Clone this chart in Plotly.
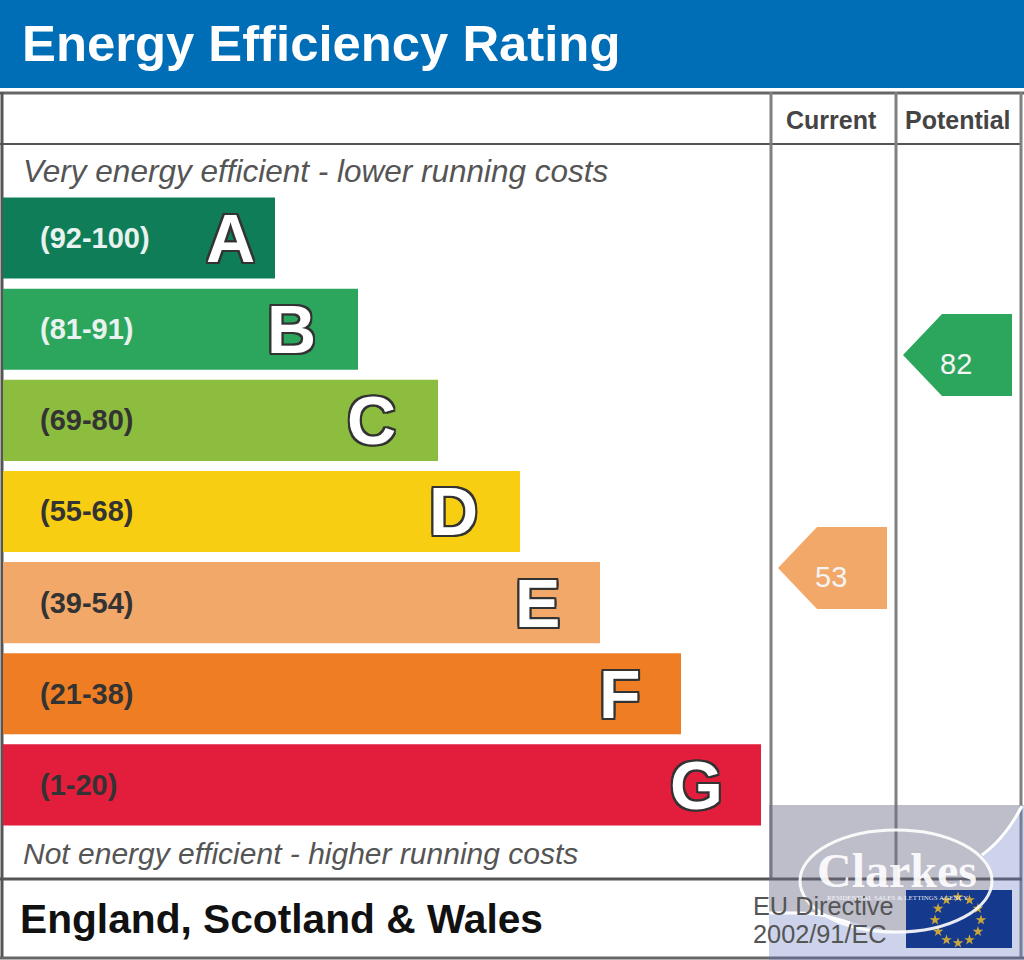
import numpy as np
import plotly.graph_objects as go

# Data
bands = ["A", "B", "C", "D", "E", "F", "G"]
band_ranges = ["(92-100)", "(81-91)", "(69-80)", "(55-68)", "(39-54)", "(21-38)", "(1-20)"]
bar_lengths = [272, 355, 435, 517, 597, 678, 758]
letter_x = [230, 291, 371, 453, 537, 620, 696]
band_colors = ["#0f7e58", "#2ca65c", "#8cbd3f", "#f8ce12", "#f2a869", "#ee7d23", "#e31d3c"]
label_colors = ["#e8f2ee", "#e8f2ee", "#333333", "#333333", "#333333", "#333333", "#333333"]
current_score = 53
potential_score = 82

W, H = 1024, 960
OUTLINE = ",".join(f"{a}px {b}px 0 #333333" for a, b in
                   [(-2, 0), (2, 0), (0, -2), (0, 2), (-2, -2), (2, -2), (-2, 2), (2, 2)])

fig = go.Figure()
shapes = []
annotations = []

# bands
fig.add_trace(go.Bar(
    y=bands, x=bar_lengths, base=3, orientation="h",
    marker=dict(color=band_colors, line_width=0), hoverinfo="skip",
    xaxis="x", yaxis="y",
))


# current / potential arrows, placed on a score axis
def add_arrow(score, right, color):
    half = 5.58
    xs = [right, right - 70, right - 109, right - 70, right, right]
    ys = [score + half, score + half, score, score - half, score - half, score + half]
    fig.add_trace(go.Scatter(
        x=xs, y=ys, mode="lines", fill="toself", fillcolor=color,
        line=dict(width=0, color=color), hoverinfo="skip", xaxis="x", yaxis="y2",
    ))
    annotations.append(dict(
        x=right - 56, y=score, xref="x", yref="y2", text=str(score), showarrow=False,
        yshift=-9, font=dict(family="Liberation Sans", size=29, color="#f4f4f4"),
    ))


add_arrow(current_score, 887, band_colors[4])
add_arrow(potential_score, 1012, band_colors[1])

# EU flag stars
angles = np.deg2rad(np.arange(0, 360, 30))
fig.add_trace(go.Scatter(
    x=958 + 23 * np.cos(angles), y=920 + 23 * np.sin(angles), mode="markers",
    marker=dict(symbol="star", size=8, color="#c9a63a", line_width=0),
    hoverinfo="skip", xaxis="x", yaxis="y3",
))


def rect(x0, y0, x1, y1, color, layer="below"):
    shapes.append(dict(type="rect", xref="x", yref="y3", x0=x0, y0=y0, x1=x1, y1=y1,
                       fillcolor=color, line_width=0, layer=layer))


def line(x0, y0, x1, y1, color, width):
    shapes.append(dict(type="line", xref="x", yref="y3", x0=x0, y0=y0, x1=x1, y1=y1,
                       line=dict(color=color, width=width), layer="below"))


# header and table frame
rect(0, 0, W, 88, "#006db7")
line(0, 93, 1024, 93, "#666666", 3)
line(2, 92, 2, 958, "#555555", 3)
line(0, 144, 1022, 144, "#555555", 2)
line(771, 92, 771, 878, "#808080", 3)
line(896, 92, 896, 878, "#808080", 3)
line(1021, 92, 1021, 958, "#808080", 3)
line(0, 879, 1022, 879, "#555555", 3)
line(0, 958, 1024, 958, "#666666", 3)
rect(906, 890, 1012, 948, "#15398c")

# watermark over the lower right corner
swoosh = "C1012 825 1000 842 982 855"
grey_path = ("M769 805 H1020 " + swoosh +
             " C990 865 993 872 992 880 L990 890 H906 V932 C870 932 835 913 800 913 H769 Z")
blue_path = ("M1020 805 H1024 V960 H769 V913 H800 C835 913 870 932 906 932 V948 H1012 V890 H990 "
             "L992 880 C993 872 990 865 982 855 C1000 842 1012 825 1020 805 Z")
shapes.append(dict(type="path", xref="x", yref="y3", path=grey_path, layer="above",
                   fillcolor="rgba(110,110,140,0.45)", line_width=0))
shapes.append(dict(type="path", xref="x", yref="y3", path=blue_path, layer="above",
                   fillcolor="rgba(100,120,190,0.33)", line_width=0))
shapes.append(dict(type="circle", xref="x", yref="y3", x0=800, x1=992, y0=830, y1=932, layer="above",
                   line=dict(color="rgba(255,255,255,0.9)", width=3)))
shapes.append(dict(type="path", xref="x", yref="y3", path="M1022 806 " + swoosh, layer="above",
                   line=dict(color="white", width=3)))
shapes.append(dict(type="path", xref="x", yref="y3", path="M769 913 H800 C820 913 835 918 850 923", layer="above",
                   line=dict(color="white", width=3)))


def label(x, y, text, size, color, family="Liberation Sans", anchor="left", bold=False, italic=False):
    annotations.append(dict(
        x=x, y=y, xref="x", yref="y3", text=text, showarrow=False, xanchor=anchor, yanchor="middle",
        font=dict(family=family, size=size, color=color, weight="bold" if bold else "normal",
                  style="italic" if italic else "normal"),
    ))


label(20, 43, "Energy Efficiency Rating", 50.8, "white", bold=True)
label(831, 120, "Current", 25, "#444444", anchor="center", bold=True)
label(958, 120, "Potential", 25, "#444444", anchor="center", bold=True)
label(21, 171, "Very energy efficient - lower running costs", 31.5, "#555555", italic=True)
label(21, 853, "Not energy efficient - higher running costs", 30, "#555555", italic=True)
label(18, 919, "England, Scotland &amp; Wales", 40.7, "#111111", bold=True)
label(751, 906, "EU Directive", 25.3, "#555555")
label(751, 934, "2002/91/EC", 25.3, "#555555")
label(897, 870, "Clarkes", 48, "rgba(255,255,255,0.92)", family="Liberation Serif", anchor="center", bold=True)
label(897, 898, "RESIDENTIAL SALES &amp; LETTINGS AGENCY", 7, "rgba(255,255,255,0.9)",
      family="Liberation Serif", anchor="center")

for band, rng, lx, lc in zip(bands, band_ranges, letter_x, label_colors):
    annotations.append(dict(x=38, y=band, xref="x", yref="y", text=rng, showarrow=False, xanchor="left",
                            font=dict(family="Liberation Sans", size=29, color=lc, weight="bold")))
    annotations.append(dict(x=lx, y=band, xref="x", yref="y", text=band, showarrow=False, xanchor="center",
                            font=dict(family="Liberation Sans", size=68, color="white", weight="bold",
                                      shadow=OUTLINE)))

hidden = dict(visible=False, showgrid=False, zeroline=False, fixedrange=True)
fig.update_layout(
    width=W, height=H, margin=dict(l=0, r=0, t=0, b=0, pad=0),
    paper_bgcolor="white", plot_bgcolor="rgba(0,0,0,0)", showlegend=False,
    bargap=0.11, shapes=shapes, annotations=annotations,
    xaxis=dict(range=[0, W], domain=[0, 1], **hidden),
    # band index axis, bands are 91.14px tall and start 192.5px down the page
    yaxis=dict(type="category", categoryorder="array", categoryarray=bands,
               range=[7.921, -2.612], domain=[0, 1], **hidden),
    # score axis: 53 sits at 568px down the page, 82 at 355px
    yaxis2=dict(range=[-0.37, 130.33], overlaying="y", anchor="x", **hidden),
    yaxis3=dict(range=[H, 0], overlaying="y", anchor="x", **hidden),
)

fig.write_html("out.html", config={"displayModeBar": False},
               post_script="document.body.style.margin='0';document.body.style.overflow='hidden';")
